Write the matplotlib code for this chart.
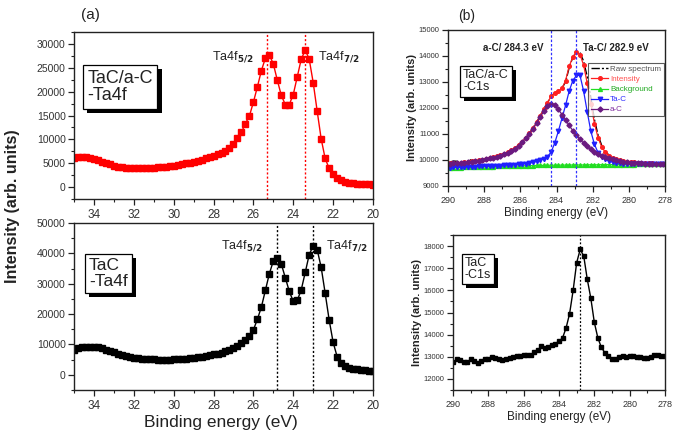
import matplotlib
matplotlib.use("Agg")
import matplotlib.pyplot as plt
import matplotlib.patheffects as pe
from matplotlib.ticker import MultipleLocator

plt.rcParams['font.family'] = ['Liberation Sans', 'DejaVu Sans']

# ---- Ta4f spectra (left column), binding energy in eV ----
ta4f_energy = [35.0, 34.8, 34.6, 34.4, 34.2, 34.0, 33.8, 33.6, 33.4, 33.2,
               33.0, 32.8, 32.6, 32.4, 32.2, 32.0, 31.8, 31.6, 31.4, 31.2,
               31.0, 30.8, 30.6, 30.4, 30.2, 30.0, 29.8, 29.6, 29.4, 29.2,
               29.0, 28.8, 28.6, 28.4, 28.2, 28.0, 27.8, 27.6, 27.4, 27.2,
               27.0, 26.8, 26.6, 26.4, 26.2, 26.0, 25.8, 25.6, 25.4, 25.2,
               25.0, 24.8, 24.6, 24.4, 24.2, 24.0, 23.8, 23.6, 23.4, 23.2,
               23.0, 22.8, 22.6, 22.4, 22.2, 22.0, 21.8, 21.6, 21.4, 21.2,
               21.0, 20.8, 20.6, 20.4, 20.2, 20.0]

tac_ac_ta4f = [6100, 6250, 6350, 6300, 6150, 5900, 5600, 5300, 5000, 4750,
               4500, 4300, 4150, 4050, 4000, 3950, 3950, 3950, 4000, 4050,
               4100, 4150, 4200, 4300, 4400, 4500, 4650, 4800, 4950, 5100,
               5300, 5500, 5750, 6000, 6250, 6550, 6850, 7200, 7600, 8200,
               9000, 10300, 11500, 13300, 14900, 17800, 21000, 24400, 27000, 27700,
               25800, 22400, 19200, 17300, 17300, 19400, 23100, 26800, 28700, 26800,
               21900, 15900, 10100, 6000, 3900, 2700, 2000, 1500, 1100, 900,
               800, 700, 650, 600, 550, 500]

tac_ta4f = [8300, 8700, 9000, 9200, 9300, 9300, 9100, 8700, 8200, 7800,
            7400, 7000, 6600, 6200, 5950, 5700, 5500, 5350, 5250, 5150,
            5050, 5000, 4950, 4950, 5000, 5050, 5150, 5250, 5350, 5500,
            5650, 5800, 6000, 6200, 6450, 6700, 7000, 7300, 7700, 8200,
            8800, 9600, 10500, 11500, 12800, 14800, 18300, 22300, 27800, 33300,
            37500, 38500, 36500, 32000, 27500, 24200, 24500, 28000, 33700, 39600,
            42500, 41200, 35400, 26900, 18100, 10700, 6000, 4000, 3000, 2400,
            2000, 1800, 1600, 1500, 1400, 1300]

peaks_tac_ac_ta4f = [25.3, 23.4]
peaks_tac_ta4f = [24.8, 23.0]

# ---- C1s of TaC/a-C (top right) ----
c1s_fit_energy = [289.9, 289.7, 289.5, 289.3, 289.1, 288.9, 288.7, 288.5, 288.3, 288.1,
                  287.9, 287.7, 287.5, 287.3, 287.1, 286.9, 286.7, 286.5, 286.3, 286.1,
                  285.9, 285.7, 285.5, 285.3, 285.1, 284.9, 284.7, 284.5, 284.3, 284.1,
                  283.9, 283.7, 283.5, 283.3, 283.1, 282.9, 282.7, 282.5, 282.3, 282.1,
                  281.9, 281.7, 281.5, 281.3, 281.1, 280.9, 280.7, 280.5, 280.3, 280.1,
                  279.9, 279.7, 279.5, 279.3, 279.1, 278.9, 278.7, 278.5, 278.3, 278.1]

raw_spectrum = [9920, 9960, 9950, 9880, 9900, 9940, 10020, 9950, 9990, 10020,
                10030, 10080, 10090, 10150, 10180, 10250, 10290, 10390, 10460, 10590,
                10700, 10870, 11020, 11240, 11440, 11710, 11940, 12210, 12440, 12580,
                12660, 12760, 13000, 13550, 13950, 14150, 14120, 13800, 13200, 12400,
                11550, 10950, 10560, 10330, 10190, 10100, 10040, 9990, 9970, 9940,
                9930, 9900, 9910, 9880, 9890, 9870, 9880, 9860, 9870, 9850]

intensity = [9870, 9880, 9890, 9900, 9910, 9930, 9950, 9970, 9990, 10010,
             10040, 10070, 10100, 10140, 10190, 10240, 10300, 10380, 10470, 10580,
             10710, 10860, 11030, 11230, 11450, 11700, 11950, 12200, 12450, 12570,
             12650, 12750, 13050, 13600, 13950, 14150, 14050, 13650, 12950, 12150,
             11400, 10850, 10500, 10300, 10170, 10090, 10030, 9990, 9960, 9940,
             9920, 9910, 9900, 9890, 9880, 9870, 9870, 9860, 9860, 9850]

background = [9700, 9705, 9705, 9710, 9715, 9720, 9720, 9725, 9730, 9735,
              9735, 9740, 9745, 9750, 9750, 9755, 9760, 9765, 9765, 9770,
              9775, 9780, 9780, 9785, 9790, 9790, 9795, 9795, 9800, 9800,
              9800, 9805, 9805, 9805, 9810, 9810, 9810, 9810, 9815, 9815,
              9815, 9815, 9820, 9820, 9820, 9820, 9820, 9825, 9825, 9825,
              9825, 9825, 9830, 9830, 9830, 9830, 9830, 9830, 9835, 9835]

ta_c = [9710, 9715, 9720, 9725, 9730, 9735, 9740, 9745, 9750, 9755,
        9760, 9765, 9770, 9775, 9780, 9790, 9800, 9810, 9820, 9835,
        9850, 9865, 9885, 9910, 9945, 9990, 10050, 10130, 10300, 10650,
        11100, 11600, 12100, 12650, 13050, 13250, 13250, 12650, 11850, 11100,
        10600, 10280, 10120, 10020, 9960, 9920, 9890, 9870, 9860, 9850,
        9845, 9840, 9840, 9835, 9835, 9830, 9830, 9830, 9830, 9830]

a_c = [9860, 9870, 9880, 9890, 9900, 9920, 9940, 9960, 9980, 10000,
       10030, 10060, 10090, 10130, 10170, 10220, 10280, 10350, 10440, 10550,
       10680, 10830, 11000, 11200, 11420, 11650, 11880, 12060, 12150, 12100,
       11950, 11750, 11550, 11330, 11130, 10950, 10790, 10650, 10520, 10410,
       10320, 10240, 10170, 10110, 10060, 10020, 9990, 9960, 9940, 9920,
       9900, 9890, 9880, 9870, 9860, 9860, 9850, 9850, 9840, 9840]

peaks_c1s = [284.3, 282.9]

# ---- C1s of TaC (bottom right) ----
c1s_energy = [290.0, 289.8, 289.6, 289.4, 289.2, 289.0, 288.8, 288.6, 288.4, 288.2,
              288.0, 287.8, 287.6, 287.4, 287.2, 287.0, 286.8, 286.6, 286.4, 286.2,
              286.0, 285.8, 285.6, 285.4, 285.2, 285.0, 284.8, 284.6, 284.4, 284.2,
              284.0, 283.8, 283.6, 283.4, 283.2, 283.0, 282.8, 282.6, 282.4, 282.2,
              282.0, 281.8, 281.6, 281.4, 281.2, 281.0, 280.8, 280.6, 280.4, 280.2,
              280.0, 279.8, 279.6, 279.4, 279.2, 279.0, 278.8, 278.6, 278.4, 278.2,
              278.0]

tac_c1s = [12750, 12880, 12850, 12780, 12750, 12880, 12800, 12720, 12830, 12880,
           12920, 12980, 12950, 12880, 12850, 12900, 12950, 12980, 13020, 13050,
           13080, 13060, 13100, 13200, 13300, 13480, 13380, 13450, 13520, 13600,
           13700, 13850, 14300, 14950, 16000, 17250, 17850, 17550, 16500, 15650,
           14550, 13850, 13420, 13180, 13050, 12920, 12900, 13000, 13020, 13000,
           13050, 13030, 13000, 12980, 12950, 12950, 13000, 13080, 13060, 13030,
           13020]

peak_tac_c1s = 282.8

W, H = 679, 430
fig = plt.figure(figsize=(W / 100, H / 100), dpi=100)


def frame(l, t, r, b):
    return fig.add_axes([l / W, 1 - b / H, (r - l) / W, (b - t) / H])


def boxed_label(ax, x, y, txt, size):
    t = ax.text(x, y, txt, transform=ax.transAxes, ha='left', va='top',
                fontsize=size, color='#222222', linespacing=1.05, zorder=10,
                bbox=dict(boxstyle='square,pad=0.25', fc='white', ec='black', lw=0.9))
    t.get_bbox_patch().set_path_effects(
        [pe.SimplePatchShadow(offset=(3, -3), shadow_rgbFace='black', alpha=1.0),
         pe.Normal()])


def style(ax, xsize, ysize):
    for s in ax.spines.values():
        s.set_linewidth(1.0)
        s.set_color('#222222')
    ax.tick_params(which='both', direction='out', colors='#222222')
    ax.tick_params(which='major', length=4, width=0.9)
    ax.tick_params(which='minor', length=2, width=0.8)
    ax.tick_params(axis='x', labelsize=xsize, labelcolor='#333333')
    ax.tick_params(axis='y', labelsize=ysize, labelcolor='#333333', pad=2)


# top left
ax1 = frame(74, 32, 373, 199)
ax1.plot(ta4f_energy, tac_ac_ta4f, '-', color='red', lw=1.0, marker='s', ms=4.2, mec='red', mfc='red')
for p in peaks_tac_ac_ta4f:
    ax1.axvline(p, color='red', ls=(0, (1.5, 1.5)), lw=1.0)
ax1.set_xlim(35, 20)
ax1.set_ylim(-2500, 32500)
ax1.xaxis.set_major_locator(MultipleLocator(2))
ax1.xaxis.set_minor_locator(MultipleLocator(1))
ax1.yaxis.set_major_locator(MultipleLocator(5000))
ax1.yaxis.set_minor_locator(MultipleLocator(2500))
style(ax1, 8.5, 7.5)
boxed_label(ax1, 0.045, 0.775, 'TaC/a-C\n-Ta4f', 13)
ax1.text(26.0, 25800, r'Ta4f$_{\mathbf{5/2}}$', fontsize=9, color='#222222', ha='right', va='bottom')
ax1.text(22.75, 25800, r'Ta4f$_{\mathbf{7/2}}$', fontsize=9, color='#222222', ha='left', va='bottom')

# bottom left
ax2 = frame(74, 223, 373, 390)
ax2.plot(ta4f_energy, tac_ta4f, '-', color='black', lw=1.0, marker='s', ms=4.0, mec='black', mfc='black')
for p in peaks_tac_ta4f:
    ax2.axvline(p, color='black', ls=(0, (1.5, 1.5)), lw=1.0)
ax2.set_xlim(35, 20)
ax2.set_ylim(-5000, 50000)
ax2.xaxis.set_major_locator(MultipleLocator(2))
ax2.xaxis.set_minor_locator(MultipleLocator(1))
ax2.yaxis.set_major_locator(MultipleLocator(10000))
ax2.yaxis.set_minor_locator(MultipleLocator(5000))
style(ax2, 8.5, 7.5)
boxed_label(ax2, 0.05, 0.79, 'TaC\n-Ta4f', 12.5)
ax2.text(25.55, 40000, r'Ta4f$_{\mathbf{5/2}}$', fontsize=9, color='#222222', ha='right', va='bottom')
ax2.text(22.35, 40000, r'Ta4f$_{\mathbf{7/2}}$', fontsize=9, color='#222222', ha='left', va='bottom')

fig.text(0.019, 0.52, 'Intensity (arb. units)', rotation=90, ha='center', va='center',
         fontsize=11.5, fontweight='bold', color='#222222')
fig.text(0.326, 0.018, 'Binding energy (eV)', ha='center', va='center', fontsize=12.5, color='#222222')
fig.text(90 / W, 1 - 15 / H, '(a)', ha='center', va='center', fontsize=11, color='#222222')
fig.text(467 / W, 1 - 16 / H, '(b)', ha='center', va='center', fontsize=10, color='#222222')

# top right
ax3 = frame(448, 30, 665, 186)
ax3.plot(c1s_fit_energy, raw_spectrum, color='black', lw=1.0, ls=(0, (6, 1.5, 1.5, 1.5)), label='Raw spectrum')
ax3.plot(c1s_fit_energy, intensity, '-', color='#ff2020', lw=0.9, marker='o', ms=2.6, label='Intensity')
ax3.plot(c1s_fit_energy, background, '-', color='#22dd22', lw=0.9, marker='^', ms=2.8, label='Background')
ax3.plot(c1s_fit_energy, ta_c, '-', color='#2020ff', lw=0.9, marker='v', ms=3.2, label='Ta-C')
ax3.plot(c1s_fit_energy, a_c, '-', color='#6a1a80', lw=0.9, marker='D', ms=2.6, label='a-C')
for p in peaks_c1s:
    ax3.axvline(p, color='#3030ff', ls=(0, (2, 1.5)), lw=0.9)
ax3.set_xlim(290, 278)
ax3.set_ylim(9000, 15000)
ax3.xaxis.set_major_locator(MultipleLocator(2))
ax3.xaxis.set_minor_locator(MultipleLocator(1))
ax3.yaxis.set_major_locator(MultipleLocator(1000))
ax3.yaxis.set_minor_locator(MultipleLocator(500))
style(ax3, 6.5, 5.5)
ax3.set_xlabel('Binding energy (eV)', fontsize=8.5, labelpad=1, color='#222222')
ax3.set_ylabel('Intensity (arb. units)', fontsize=8, fontweight='bold', labelpad=1, color='#222222')
leg = ax3.legend(loc='upper right', bbox_to_anchor=(0.995, 0.79), fontsize=5.8, frameon=True,
                 fancybox=False, edgecolor='#333333', handlelength=2.2, borderpad=0.35,
                 labelspacing=0.3, handletextpad=0.2, borderaxespad=0)
leg.get_frame().set_linewidth(0.8)
for txt, c in zip(leg.get_texts(), ['#555555', '#ff5050', '#22aa22', '#3030ff', '#8030a0']):
    txt.set_color(c)
boxed_label(ax3, 0.07, 0.75, 'TaC/a-C\n-C1s', 9)
ax3.text(0.16, 0.885, 'a-C/ 284.3 eV', transform=ax3.transAxes, fontsize=7, fontweight='bold',
         color='#222222', ha='left', va='center')
ax3.text(0.62, 0.885, 'Ta-C/ 282.9 eV', transform=ax3.transAxes, fontsize=7, fontweight='bold',
         color='#222222', ha='left', va='center')

# bottom right
ax4 = frame(453, 235, 665, 390)
ax4.plot(c1s_energy, tac_c1s, '-', color='black', lw=1.0, marker='s', ms=3.0)
ax4.axvline(peak_tac_c1s, color='black', ls=(0, (1.5, 1.5)), lw=0.9)
ax4.set_xlim(290, 278)
ax4.set_ylim(11500, 18500)
ax4.xaxis.set_major_locator(MultipleLocator(2))
ax4.xaxis.set_minor_locator(MultipleLocator(1))
ax4.yaxis.set_major_locator(MultipleLocator(1000))
ax4.yaxis.set_minor_locator(MultipleLocator(500))
style(ax4, 6.5, 5.5)
ax4.set_xlabel('Binding energy (eV)', fontsize=8.5, labelpad=1, color='#222222')
ax4.set_ylabel('Intensity (arb. units)', fontsize=8, fontweight='bold', labelpad=1, color='#222222')
boxed_label(ax4, 0.055, 0.86, 'TaC\n-C1s', 9)

fig.savefig('out.png', dpi=100)
